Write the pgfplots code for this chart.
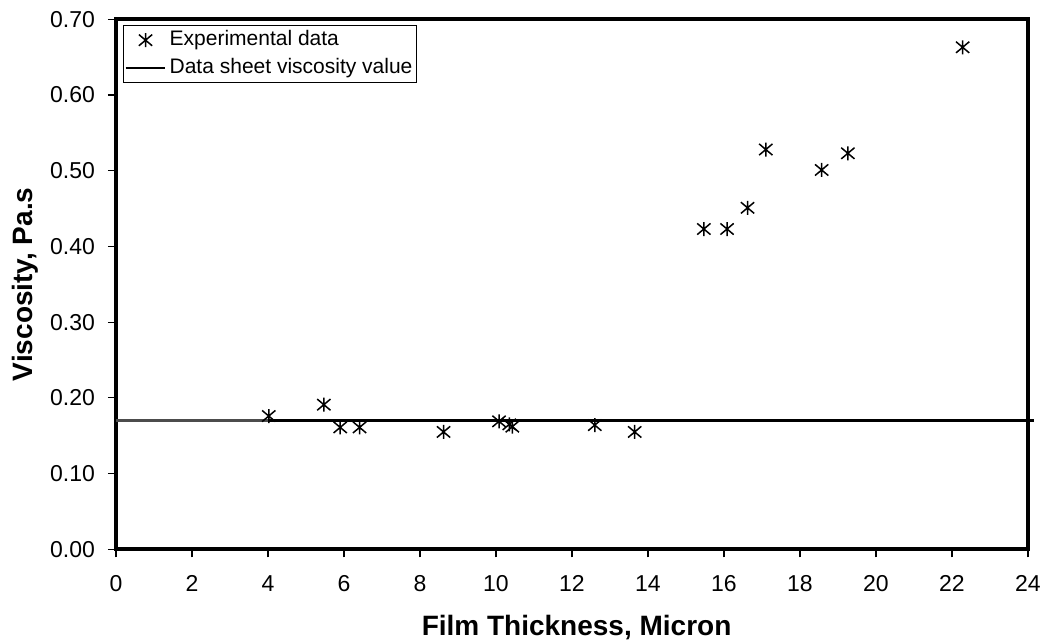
\documentclass[border=0pt]{standalone}
\usepackage{fontspec}
\setmainfont{Liberation Sans}
\usepackage{pgfplots}
\pgfplotsset{compat=1.18}
\pgfdeclareplotmark{xstar}{%
  \pgfpathmoveto{\pgfpoint{0pt}{\pgfplotmarksize}}%
  \pgfpathlineto{\pgfpoint{0pt}{-\pgfplotmarksize}}%
  \pgfpathmoveto{\pgfpoint{-0.95\pgfplotmarksize}{0.8\pgfplotmarksize}}%
  \pgfpathlineto{\pgfpoint{0.95\pgfplotmarksize}{-0.8\pgfplotmarksize}}%
  \pgfpathmoveto{\pgfpoint{-0.95\pgfplotmarksize}{-0.8\pgfplotmarksize}}%
  \pgfpathlineto{\pgfpoint{0.95\pgfplotmarksize}{0.8\pgfplotmarksize}}%
  \pgfusepathqstroke}
\pgfplotsset{
  legmark/.style={legend image code/.code={\draw[mark repeat=2,mark phase=2,##1] plot coordinates {(0cm,0cm)(0.35cm,0cm)(0.7cm,0cm)};}},
  legline/.style={legend image code/.code={\draw[##1, line width=1.2pt] (0cm,0cm) -- (0.7cm,0cm);}},
}
\begin{document}
\begin{tikzpicture}
\useasboundingbox (0,0) rectangle (523pt,320pt);
\begin{axis}[
  at={(58pt,45.35pt)}, anchor=south west,
  scale only axis, width=456pt, height=265pt,
  xmin=0, xmax=24, ymin=0, ymax=0.7,
  xtick={0,2,4,6,8,10,12,14,16,18,20,22,24},
  ytick={0,0.1,0.2,0.3,0.4,0.5,0.6,0.7},
  tick align=outside, major tick length=4pt,
  tick style={black, line width=0.6pt},
  xtick pos=left, ytick pos=left,
  axis line style={line width=2pt},
  clip=false,
  /pgf/number format/assume math mode=true,
  yticklabel style={xshift=-3pt, /pgf/number format/.cd, fixed, fixed zerofill, precision=2},
  xticklabel style={yshift=-5.5pt, /pgf/number format/.cd, fixed, precision=0},
  ticklabel style={font=\fontsize{11.5}{13}\selectfont},
  xlabel={Film Thickness, Micron},
  ylabel={Viscosity, Pa.s},
  label style={font=\fontsize{14}{16}\selectfont\bfseries},
  xlabel style={at={(axis description cs:0.505,-0.147)}, anchor=center},
  ylabel style={at={(axis description cs:-0.0998,0.5)}, anchor=center},
  legend style={at={(axis description cs:0.0077,0.9887)}, anchor=north west,
    draw=black, line width=0.4pt, font=\fontsize{10.5}{12}\selectfont,
    row sep=0.5pt, inner sep=0.5pt,
    nodes={inner sep=1.5pt, text height=8pt, text depth=2.5pt}},
  legend cell align=left,
]
\addplot[only marks, mark=xstar, mark size=3.5pt, mark options={line width=0.75pt, black}, legmark]
  coordinates {
  (4.02,0.176)(5.47,0.191)(5.90,0.161)(6.41,0.161)(8.62,0.155)
  (10.08,0.169)(10.35,0.165)(10.43,0.162)(12.60,0.164)(13.65,0.155)
  (15.47,0.423)(16.08,0.423)(16.62,0.451)(17.10,0.528)(18.57,0.501)
  (19.26,0.523)(22.28,0.663)};
\addlegendentry{Experimental data}
\addplot[black, line width=1.65pt, legline]
  coordinates {(4.0,0.17)(24.16,0.17)};
\addlegendentry{Data sheet viscosity value}
\addplot[gray!60!black, line width=1.1pt, forget plot] coordinates {(0,0.17)(4.0,0.17)};
\end{axis}
\end{tikzpicture}
\end{document}
